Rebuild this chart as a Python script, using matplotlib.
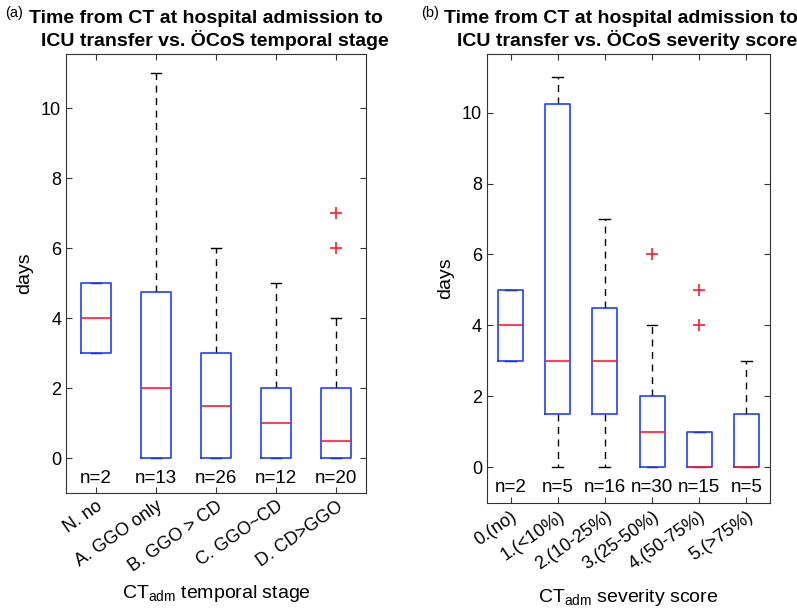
import matplotlib
matplotlib.use("Agg")
import matplotlib.pyplot as plt
from matplotlib.transforms import ScaledTranslation

matplotlib.rcParams['font.family'] = ['Liberation Sans', 'DejaVu Sans']
matplotlib.rcParams['mathtext.fontset'] = 'custom'
matplotlib.rcParams['mathtext.rm'] = 'Liberation Sans'

# (a) temporal stage
stage_labels = ["N. no", "A. GGO only", "B. GGO > CD", "C. GGO~CD", "D. CD>GGO"]
stage_q1 = [3, 0, 0, 0, 0]
stage_med = [4, 2, 1.5, 1, 0.5]
stage_q3 = [5, 4.75, 3, 2, 2]
stage_lo = [3, 0, 0, 0, 0]
stage_hi = [5, 11, 6, 5, 4]
stage_out = [[], [], [], [], [6, 7]]
stage_n = [2, 13, 26, 12, 20]

# (b) severity score
sev_labels = ["0.(no)", "1.(<10%)", "2.(10-25%)", "3.(25-50%)", "4.(50-75%)", "5.(>75%)"]
sev_q1 = [3, 1.5, 1.5, 0, 0, 0]
sev_med = [4, 3, 3, 1, 0, 0]
sev_q3 = [5, 10.25, 4.5, 2, 1, 1.5]
sev_lo = [3, 0, 0, 0, 0, 0]
sev_hi = [5, 11, 7, 4, 1, 3]
sev_out = [[], [], [], [6], [4, 5], []]
sev_n = [2, 5, 16, 30, 15, 5]


def draw_box(fig, ax, labels, q1, med, q3, lo, hi, out, n, capw, width):
    stats = []
    for i in range(len(labels)):
        stats.append(dict(q1=q1[i], med=med[i], q3=q3[i], whislo=lo[i],
                          whishi=hi[i], fliers=out[i]))
    res = ax.bxp(stats, widths=width, capwidths=capw, showfliers=True,
                 boxprops=dict(color="#1f3fff", linewidth=1.2),
                 medianprops=dict(color="#ff1a2e", linewidth=1.2),
                 whiskerprops=dict(color="black", linewidth=1.0, linestyle=(0, (5, 4))),
                 capprops=dict(color="black", linewidth=1.0),
                 flierprops=dict(marker="+", markeredgecolor="#ff1a2e", markersize=9,
                                 markeredgewidth=1.2, linestyle="none"))
    # box outline above whiskers/caps so zero-length whiskers stay hidden
    for c in res["caps"] + res["whiskers"]:
        c.set_zorder(1.5)
    for b in res["boxes"]:
        b.set_zorder(3)
    for m in res["medians"]:
        m.set_zorder(4)
    for i, v in enumerate(n):
        ax.text(i + 1, -0.57, f"n={v}", ha="center", va="center", fontsize=13.5)
    ax.set_xlim(0.5, len(labels) + 0.5)
    ax.set_xticks(range(1, len(labels) + 1))
    ax.set_xticklabels(labels, rotation=35, ha="right", rotation_mode="anchor",
                       fontsize=13)
    shift = ScaledTranslation(0.04, -0.05, fig.dpi_scale_trans)
    for lab in ax.get_xticklabels():
        lab.set_transform(lab.get_transform() + shift)
    ax.set_yticks([0, 2, 4, 6, 8, 10])
    ax.tick_params(direction="in", top=True, right=True, length=4,
                   labelsize=13, color="#333333")
    ax.set_ylabel("days", fontsize=14, labelpad=6)
    for s in ax.spines.values():
        s.set_color("#333333")


def two_line_title(fig, ax, line1, line2, dx1):
    # MATLAB-style title, first line sits a little left of the second
    off1 = ScaledTranslation(dx1, 0.31, fig.dpi_scale_trans)
    off2 = ScaledTranslation(-0.015, 0.08, fig.dpi_scale_trans)
    ax.text(0.5, 1.0, line1, transform=ax.transAxes + off1,
            ha="center", va="baseline", fontweight="bold", fontsize=14)
    ax.text(0.5, 1.0, line2, transform=ax.transAxes + off2,
            ha="center", va="baseline", fontweight="bold", fontsize=14)


fig = plt.figure(figsize=(7.97, 6.14), dpi=100)

ax1 = fig.add_axes([0.0828, 0.197, 0.3764, 0.715])
draw_box(fig, ax1, stage_labels, stage_q1, stage_med, stage_q3, stage_lo, stage_hi,
         stage_out, stage_n, 0.18, 0.5)
ax1.set_ylim(-1, 11.55)
ax1.set_xlabel(r"CT$_{\rm adm}$ temporal stage", fontsize=14, labelpad=6)
two_line_title(fig, ax1, "Time from CT at hospital admission to",
               "ICU transfer vs. ÖCoS temporal stage", -0.10)

ax2 = fig.add_axes([0.611, 0.181, 0.355, 0.731])
draw_box(fig, ax2, sev_labels, sev_q1, sev_med, sev_q3, sev_lo, sev_hi,
         sev_out, sev_n, 0.23, 0.53)
ax2.set_ylim(-1, 11.65)
ax2.set_xlabel(r"CT$_{\rm adm}$ severity score", fontsize=14, labelpad=10)
two_line_title(fig, ax2, "Time from CT at hospital admission to",
               "ICU transfer vs. ÖCoS severity score", -0.07)

fig.text(0.006, 0.99, "(a)", fontsize=10.5, va="top")
fig.text(0.528, 0.99, "(b)", fontsize=10.5, va="top")

fig.savefig("out.png", dpi=100)
